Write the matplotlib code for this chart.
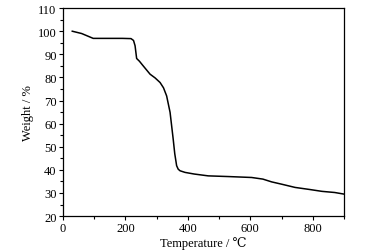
import matplotlib
matplotlib.use("Agg")
import matplotlib.pyplot as plt
from matplotlib.ticker import MultipleLocator

temperature = [30, 60, 97, 140, 190, 218, 226, 231, 236, 245, 257, 279, 295, 311, 322, 332, 343, 353, 358, 364, 369, 375, 391, 420, 465, 530, 604, 640, 668, 700, 743, 790, 829, 870, 900]
weight = [100, 99, 96.9, 96.9, 96.9, 96.8, 96, 93.7, 88.2, 87, 85, 81.4, 79.8, 77.8, 75.5, 72, 64.9, 53.3, 47, 41.8, 40.3, 39.6, 38.9, 38.2, 37.4, 37.1, 36.7, 36.0, 34.8, 33.8, 32.4, 31.5, 30.7, 30.2, 29.5]

plt.rcParams['font.family'] = ['Liberation Serif', 'DejaVu Serif']
fig = plt.figure(figsize=(3.7, 2.53), dpi=100)
ax = fig.add_axes([0.170, 0.142, 0.760, 0.822])
ax.plot(temperature, weight, color='black', lw=1.1)
ax.set_xlim(0, 900)
ax.set_ylim(20, 110)
ax.xaxis.set_major_locator(MultipleLocator(200))
ax.xaxis.set_minor_locator(MultipleLocator(100))
ax.yaxis.set_major_locator(MultipleLocator(10))
ax.yaxis.set_minor_locator(MultipleLocator(5))
ax.tick_params(which='both', direction='out', top=False, right=False, labelsize=9, width=0.8, pad=1.5)
ax.tick_params(which='major', length=3)
ax.tick_params(which='minor', length=2)
for s in ax.spines.values():
    s.set_linewidth(0.9)
ax.set_xlabel('Temperature / ℃', fontsize=9, labelpad=1)
ax.set_ylabel('Weight / %', fontsize=9, labelpad=3)
fig.savefig('out.png', dpi=100)
